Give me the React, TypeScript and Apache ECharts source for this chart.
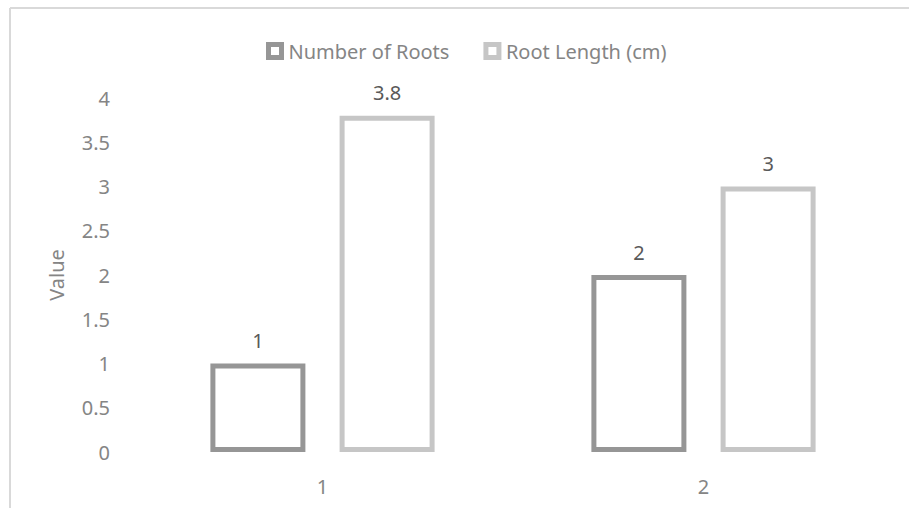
import React, { useEffect, useRef } from "react";
import * as echarts from "echarts";

const categories = ["1", "2"];
const numberOfRoots = [1, 2];
const rootLength = [3.8, 3];
const seriesNames = ["Number of Roots", "Root Length (cm)"];
const yTicks = { min: 0, max: 4, interval: 0.5 };

const FONT = "'Noto Sans', sans-serif";
const DARK = "#969696";
const LIGHT = "#c6c6c6";

export default function App() {
  const ref = useRef<HTMLDivElement>(null);
  useEffect(() => {
    if (!ref.current) return;
    const chart = echarts.init(ref.current, null, { renderer: "svg" });
    const mkSeries = (name: string, data: number[], color: string) => ({
      name,
      type: "bar",
      data,
      barWidth: 95,
      barGap: "36%",
      itemStyle: { color: "#ffffff", borderColor: color, borderWidth: 5 },
      label: {
        show: true,
        position: "top",
        distance: 13,
        color: "#595959",
        fontSize: 20,
        fontFamily: FONT,
      },
    });
    chart.setOption({
      animation: false,
      backgroundColor: "#ffffff",
      textStyle: { fontFamily: FONT },
      legend: {
        left: 261,
        top: 36,
        itemWidth: 13,
        itemHeight: 13,
        itemGap: 34,
        icon: "rect",
        textStyle: { color: "#858585", fontSize: 20, fontFamily: FONT, padding: [0, 0, 0, 2] },
        data: [
          { name: seriesNames[0], itemStyle: { color: "#ffffff", borderColor: DARK, borderWidth: 5 } },
          { name: seriesNames[1], itemStyle: { color: "#ffffff", borderColor: LIGHT, borderWidth: 5 } },
        ],
      },
      grid: { left: 132, right: 15, top: 98, bottom: 56, containLabel: false },
      xAxis: {
        type: "category",
        data: categories,
        axisLine: { show: false },
        axisTick: { show: false },
        axisLabel: { color: "#858585", fontSize: 20, fontFamily: FONT, margin: 24 },
      },
      yAxis: {
        type: "value",
        min: yTicks.min,
        max: yTicks.max,
        interval: yTicks.interval,
        name: "Value",
        nameLocation: "middle",
        nameGap: 66,
        nameTextStyle: { color: "#858585", fontSize: 20, fontFamily: FONT },
        axisLine: { show: false },
        axisTick: { show: false },
        splitLine: { show: false },
        axisLabel: { color: "#858585", fontSize: 20, fontFamily: FONT, margin: 22 },
      },
      graphic: [
        { type: "line", shape: { x1: 10, y1: 8, x2: 909, y2: 8 }, style: { stroke: "#d9d9d9", lineWidth: 2 } },
        { type: "line", shape: { x1: 10, y1: 8, x2: 10, y2: 508 }, style: { stroke: "#d9d9d9", lineWidth: 2 } },
      ],
      series: [
        mkSeries(seriesNames[0], numberOfRoots, DARK),
        mkSeries(seriesNames[1], rootLength, LIGHT),
      ],
    });
    return () => chart.dispose();
  }, []);
  return (
    <div
      ref={ref}
      style={{ position: "fixed", left: 0, top: 0, width: 909, height: 508 }}
    />
  );
}
